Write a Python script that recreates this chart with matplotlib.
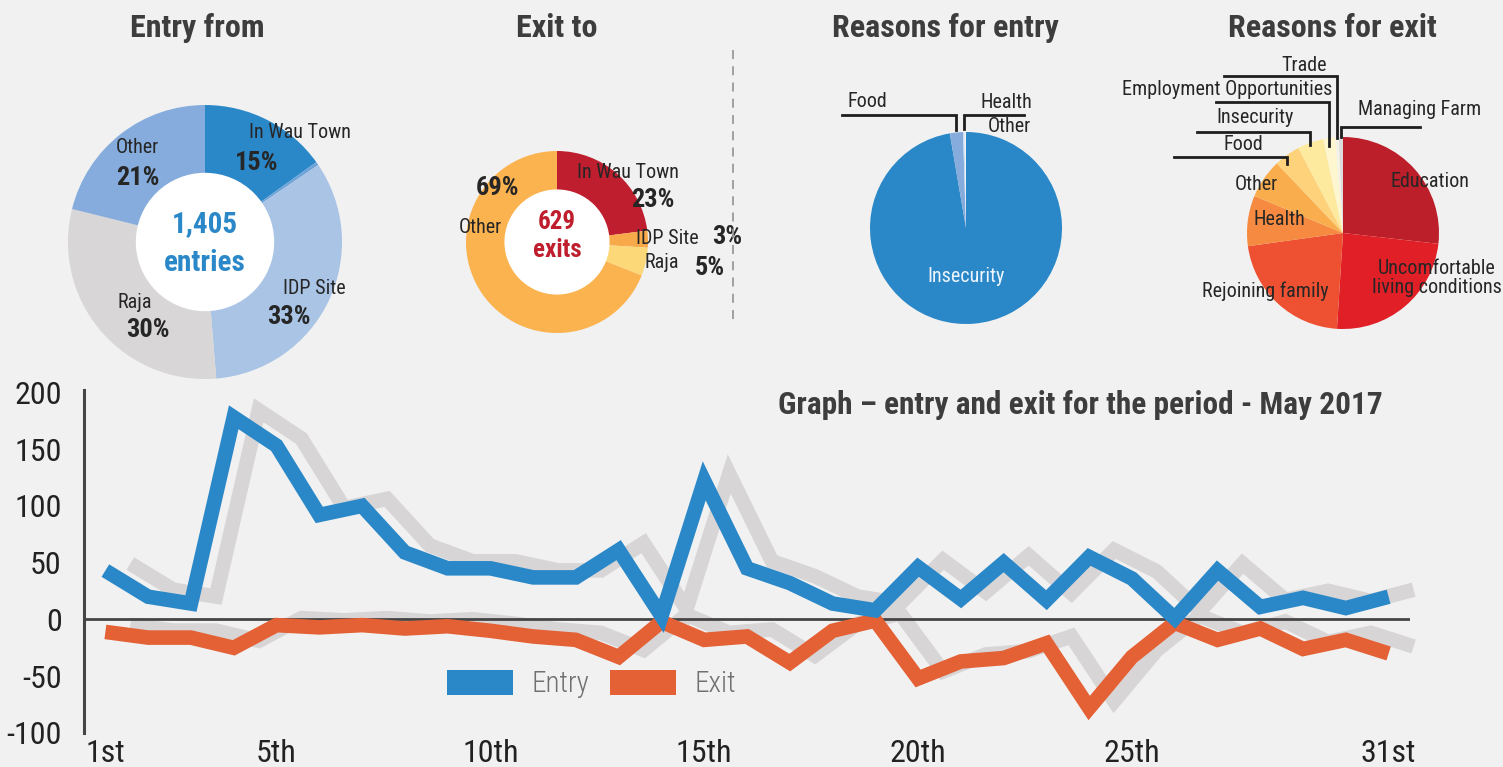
import matplotlib
matplotlib.use("Agg")
import matplotlib.pyplot as plt
import matplotlib.patches as mpatches
import matplotlib.transforms as mtransforms
from matplotlib.lines import Line2D
import numpy as np

# ---- data ----
days = np.arange(1, 32)
entries = [43, 20, 14, 178, 153, 92, 100, 59, 45, 45, 37, 37, 61, 3, 122,
           45, 32, 14, 8, 46, 18, 50, 17, 55, 36, 1, 43, 11, 19, 10, 20]
exits = [-11, -16, -16, -25, -5, -7, -5, -8, -6, -10, -15, -18, -33, -2, -18,
         -15, -38, -10, -1, -52, -37, -34, -21, -78, -33, -3, -18, -8, -26, -18, -30]
day_ticks = [1, 5, 10, 15, 20, 25, 31]
day_labels = ["1st", "5th", "10th", "15th", "20th", "25th", "31st"]
y_ticks = [-100, -50, 0, 50, 100, 150, 200]

entry_from_names = ["In Wau Town", "", "IDP Site", "Raja", "Other"]
entry_from_pct = [15, 0.4, 33, 30, 21]
entry_total = "1,405"

exit_to_names = ["In Wau Town", "IDP Site", "Raja", "Other"]
exit_to_pct = [23, 3, 5, 69]
exit_total = "629"

entry_reason_names = ["Insecurity", "Food", "Health", "Other"]
entry_reason_pct = [97.3, 2.2, 0.25, 0.25]

exit_reason_names = ["Education", "Uncomfortable\nliving conditions", "Rejoining family",
                     "Health", "Other", "Food", "Insecurity",
                     "Employment Opportunities", "Trade", "Managing Farm"]
exit_reason_pct = [26.8, 24.2, 21.8, 8.5, 6.6, 4.4, 4.4, 2.0, 0.6, 0.7]

# ---- style ----
BG = "#f1f1f1"
BLUE = "#2b88c8"
ORANGE = "#e46035"
SHADOW = "#d7d5d6"
TXT = "#262626"
TITLE = "#3d3d3d"
FONT = ["Liberation Sans Narrow", "Roboto Condensed", "DejaVu Sans Condensed",
        "Roboto", "DejaVu Sans"]
plt.rcParams["font.family"] = FONT
plt.rcParams["font.stretch"] = "condensed"
plt.rcParams["axes.unicode_minus"] = False

W, H = 1503, 767
fig = plt.figure(figsize=(W / 100, H / 100), dpi=100, facecolor=BG)


def pie_axes(cx, cy, r, hw, hh):
    """axes centred on pixel (cx, cy) where one data unit = r pixels"""
    ax = fig.add_axes([(cx - hw) / W, 1 - (cy + hh) / H, 2 * hw / W, 2 * hh / H])
    return ax, ((-hw / r, hw / r), (-hh / r, hh / r))


def finish(ax, lims):
    ax.set_xlim(*lims[0])
    ax.set_ylim(*lims[1])
    ax.axis("off")


def leader(ax, vals, idx, level, length, end_r=0.95):
    # vertical tick from the wedge middle, then a horizontal run to the label
    total = float(sum(vals))
    mid = (sum(vals[:idx]) + vals[idx] / 2) / total * 2 * np.pi
    x = np.sin(mid)
    y = np.cos(mid) * end_r
    ax.plot([x + length, x, x], [level, level, y], color="#1e1e1e", lw=2,
            solid_joinstyle="miter", clip_on=False, zorder=5)


def label(ax, x, y, s, size=14.5, bold=False, color=TXT, **kw):
    ax.text(x, y, s, ha=kw.pop("ha", "center"), va="center", fontsize=size,
            fontweight="bold" if bold else "normal", color=color, **kw)


# ---- titles ----
for x, s in [(197, "Entry from"), (557, "Exit to"),
             (945, "Reasons for entry"), (1332, "Reasons for exit")]:
    fig.text(x / W, 1 - 28 / H, s, ha="center", va="center", fontsize=23,
             fontweight="bold", color=TITLE)

# ---- Entry from donut ----
ax1, lim1 = pie_axes(205, 242, 137, 195, 190)
ax1.pie(entry_from_pct, colors=[BLUE, "#6ea3d9", "#aac4e6", "#d8d6d7", "#85acdc"],
        startangle=90, counterclock=False, wedgeprops=dict(linewidth=0))
ax1.add_patch(mpatches.Circle((0, 0), 0.50, color="white", zorder=3))
finish(ax1, lim1)
label(ax1, 0.69, 0.80, entry_from_names[0])
label(ax1, 0.38, 0.58, f"{entry_from_pct[0]}%", 19, True)
label(ax1, 0.80, -0.34, entry_from_names[2])
label(ax1, 0.61, -0.55, f"{entry_from_pct[2]}%", 19, True)
label(ax1, -0.51, -0.44, entry_from_names[3])
label(ax1, -0.42, -0.64, f"{entry_from_pct[3]}%", 19, True)
label(ax1, -0.49, 0.69, entry_from_names[4])
label(ax1, -0.49, 0.47, f"{entry_from_pct[4]}%", 19, True)
label(ax1, 0, 0.13, entry_total, 21, True, BLUE, zorder=4)
label(ax1, 0, -0.15, "entries", 21, True, BLUE, zorder=4)

# ---- Exit to donut ----
ax2, lim2 = pie_axes(557, 242, 91, 170, 175)
ax2.pie(exit_to_pct, colors=["#be1e2d", "#f8a94a", "#fdd878", "#fbb34f"],
        startangle=90, counterclock=False, wedgeprops=dict(linewidth=0))
ax2.add_patch(mpatches.Circle((0, 0), 0.57, color="white", zorder=3))
finish(ax2, lim2)
label(ax2, 0.78, 0.76, exit_to_names[0])
label(ax2, 1.05, 0.46, f"{exit_to_pct[0]}%", 19, True)
label(ax2, 1.21, 0.04, exit_to_names[1])
label(ax2, 1.87, 0.05, f"{exit_to_pct[1]}%", 19, True)
label(ax2, 1.15, -0.23, exit_to_names[2])
label(ax2, 1.68, -0.29, f"{exit_to_pct[2]}%", 19, True)
label(ax2, -0.65, 0.59, f"{exit_to_pct[3]}%", 19, True)
label(ax2, -0.84, 0.16, exit_to_names[3])
label(ax2, 0, 0.22, exit_total, 18, True, "#be1e2d", zorder=4)
label(ax2, 0, -0.09, "exits", 18, True, "#be1e2d", zorder=4)

# dashed separator
fig.add_artist(Line2D([733 / W, 733 / W], [1 - 50 / H, 1 - 323 / H],
                      transform=fig.transFigure, color="#9a9a9a", lw=1.3,
                      linestyle=(0, (5, 4))))

# ---- Reasons for entry pie ----
ax3, lim3 = pie_axes(966, 228, 96, 165, 175)
ax3.pie(entry_reason_pct, colors=[BLUE, "#85acdc", "#c9dbf0", "#eef3fa"],
        startangle=90, counterclock=False, wedgeprops=dict(linewidth=0))
finish(ax3, lim3)
label(ax3, 0, -0.51, entry_reason_names[0], color="#eef5fb")
leader(ax3, entry_reason_pct, 1, 1.18, -1.19, end_r=1.03)
leader(ax3, entry_reason_pct, 2, 1.18, 0.63, end_r=1.03)
label(ax3, -1.03, 1.32, entry_reason_names[1])
label(ax3, 0.42, 1.31, entry_reason_names[2])
label(ax3, 0.45, 1.06, entry_reason_names[3])

# ---- Reasons for exit pie ----
ax4, lim4 = pie_axes(1343, 233, 96, 160, 190)
ax4.pie(exit_reason_pct,
        colors=["#bc1f2a", "#e11f26", "#ee5131", "#f58a40", "#f9ad4d",
                "#fdd27a", "#feea9f", "#fef6cf", "#f6f3e6", "#dcdcdc"],
        startangle=90, counterclock=False, wedgeprops=dict(linewidth=0))
finish(ax4, lim4)
label(ax4, 0.91, 0.54, exit_reason_names[0])
label(ax4, 0.98, -0.47, exit_reason_names[1], linespacing=1.05)
label(ax4, -0.81, -0.61, exit_reason_names[2])
label(ax4, -0.66, 0.14, exit_reason_names[3])
label(ax4, -0.90, 0.51, exit_reason_names[4])
leader(ax4, exit_reason_pct, 5, 0.79, -1.18, end_r=0.88)
leader(ax4, exit_reason_pct, 6, 1.05, -1.18, end_r=0.97)
leader(ax4, exit_reason_pct, 7, 1.36, -1.18, end_r=0.92)
leader(ax4, exit_reason_pct, 8, 1.64, -1.18, end_r=0.99)
leader(ax4, exit_reason_pct, 9, 1.10, 0.82, end_r=1.0)
label(ax4, -1.04, 0.92, exit_reason_names[5])
label(ax4, -0.92, 1.20, exit_reason_names[6])
label(ax4, -1.21, 1.49, exit_reason_names[7])
label(ax4, -0.40, 1.74, exit_reason_names[8])
label(ax4, 0.80, 1.29, exit_reason_names[9])

# ---- entry / exit line graph ----
ax = fig.add_axes([84 / W, 34 / H, 1326 / W, 343 / H])
ax.set_facecolor("none")
shadow = mtransforms.offset_copy(ax.transData, fig=fig, x=25, y=7, units="dots")
lw = 10.5
for series in (entries, exits):
    ax.plot(days, series, color=SHADOW, lw=lw, transform=shadow,
            solid_joinstyle="miter", solid_capstyle="butt", zorder=1, clip_on=False)
ax.axhline(0, color="#454545", lw=2, zorder=2)
ax.plot(days, exits, color=ORANGE, lw=lw, solid_joinstyle="miter",
        solid_capstyle="butt", zorder=3, clip_on=False)
ax.plot(days, entries, color=BLUE, lw=lw, solid_joinstyle="miter",
        solid_capstyle="butt", zorder=4, clip_on=False)

ax.set_xlim(0.5, 31.5)
ax.set_ylim(-100, 202)
ax.set_xticks(day_ticks)
ax.set_xticklabels(day_labels)
ax.set_yticks(y_ticks)
ax.tick_params(axis="y", length=0, pad=16, labelsize=23, labelcolor="#222222")
ax.tick_params(axis="x", length=0, pad=4, labelsize=23, labelcolor="#222222")
for s in ("top", "right", "bottom"):
    ax.spines[s].set_visible(False)
ax.spines["left"].set_color("#454545")
ax.spines["left"].set_linewidth(2.2)

leg = ax.legend(handles=[mpatches.Patch(color=BLUE, lw=0), mpatches.Patch(color=ORANGE, lw=0)],
                labels=["Entry", "Exit"], ncol=2, frameon=False, loc="center",
                bbox_to_anchor=(0.383, 0.143), fontsize=21, labelcolor="#707070",
                handlelength=2.25, handleheight=0.95, handletextpad=0.65,
                columnspacing=0.7)
for t in leg.get_texts():
    t.set_fontweight("light")

fig.text(1080 / W, 1 - 405 / H, "Graph \u2013 entry and exit for the period - May 2017",
         ha="center", va="center", fontsize=22.5, fontweight="bold", color=TITLE)

fig.savefig("out.png", dpi=100, facecolor=BG)
